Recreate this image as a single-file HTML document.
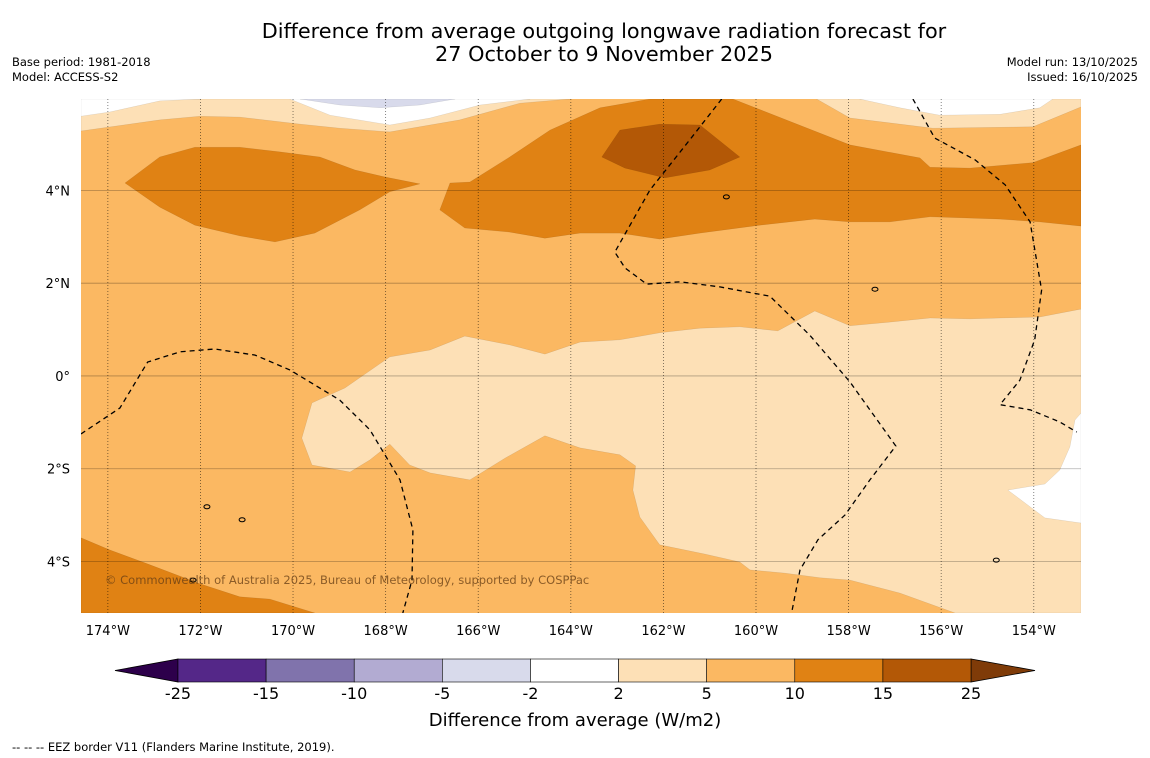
<!DOCTYPE html>
<html><head><meta charset="utf-8"><style>
html,body{margin:0;padding:0;background:#fff;}
svg{display:block;font-family:"DejaVu Sans","Liberation Sans",sans-serif;}
</style></head><body>
<svg id="chart" width="1150" height="758" viewBox="0 0 1150 758" xmlns="http://www.w3.org/2000/svg">
<rect width="1150" height="758" fill="#fff"/>
<text x="604" y="38" font-size="20.8" text-anchor="middle" fill="#000">Difference from average outgoing longwave radiation forecast for</text>
<text x="604" y="61" font-size="20.8" text-anchor="middle" fill="#000">27 October to 9 November 2025</text>
<text x="12" y="66" font-size="11.5">Base period: 1981-2018</text>
<text x="12" y="81" font-size="11.5">Model: ACCESS-S2</text>
<text x="1138" y="66" font-size="11.5" text-anchor="end">Model run: 13/10/2025</text>
<text x="1138" y="81" font-size="11.5" text-anchor="end">Issued: 16/10/2025</text>
<defs><clipPath id="mapclip"><rect x="81" y="99" width="1000" height="514"/></clipPath></defs>
<g id="map" clip-path="url(#mapclip)"></g>
<g id="axes"></g>
<g id="cbar"></g>
<text x="575" y="726" font-size="18" text-anchor="middle">Difference from average (W/m2)</text>
<text x="12" y="751" font-size="11.5">--  --  -- EEZ border V11 (Flanders Marine Institute, 2019).</text>
</svg>
<script>
// axis extents
const lonMin=-174.58, lonMax=-152.98, latMin=-5.11, latMax=5.97;
const levels=[-25,-15,-10,-5,-2,2,5,10,15,25];
const levelColors=["#542788","#8073ac","#b2abd2","#d8daeb","#ffffff","#fde0b6","#fbb862","#e08214","#b35806"];
const lowExtendColor="#2d004b", highExtendColor="#7f3b08";
const lonTicks=[-174,-172,-170,-168,-166,-164,-162,-160,-158,-156,-154];
const latTicks=[4,2,0,-2,-4];
// contour polygons [lon,lat]
const topLight=[[-174.58,5.97],[-164.02,5.97],[-165.10,5.88],[-166.40,5.52],[-167.91,5.26],[-168.99,5.34],[-169.85,5.43],[-171.15,5.58],[-172.01,5.60],[-172.88,5.52],[-174.58,5.28]];
const topLeftWhite=[[-174.58,5.97],[-174.58,5.60],[-173.96,5.69],[-172.88,5.93],[-172.01,5.97]];
const topMidWhite=[[-170.07,5.97],[-169.20,5.62],[-167.91,5.41],[-167.04,5.56],[-165.96,5.84],[-164.88,5.97]];
const topLavender=[[-169.85,5.97],[-168.99,5.84],[-168.12,5.78],[-167.26,5.84],[-166.50,5.97]];
const topRightLight=[[-158.69,5.97],[-157.97,5.56],[-156.18,5.34],[-154.02,5.37],[-152.98,5.80],[-152.98,5.97]];
const topRightWhite=[[-157.76,5.97],[-156.89,5.78],[-156.03,5.62],[-154.73,5.64],[-153.87,5.78],[-153.59,5.97]];
const leftOrange=[[-173.63,4.16],[-172.88,4.72],[-172.12,4.93],[-171.15,4.93],[-170.28,4.83],[-169.42,4.72],[-168.66,4.44],[-168.02,4.29],[-167.26,4.14],[-167.91,3.97],[-168.56,3.58],[-169.53,3.08],[-170.39,2.89],[-171.15,3.02],[-172.12,3.25],[-172.88,3.64]];
const bandOrange=[[-166.83,3.58],[-166.61,4.16],[-166.18,4.18],[-165.32,4.72],[-164.45,5.30],[-163.37,5.78],[-162.29,5.97],[-160.50,5.97],[-157.97,4.98],[-156.46,4.70],[-156.24,4.50],[-155.38,4.48],[-154.02,4.60],[-152.98,4.98],[-152.98,3.23],[-153.87,3.32],[-154.73,3.38],[-156.24,3.43],[-157.11,3.32],[-157.97,3.32],[-158.73,3.38],[-159.92,3.25],[-161.21,3.08],[-162.08,2.95],[-162.94,3.08],[-163.80,3.08],[-164.56,2.97],[-165.32,3.10],[-166.29,3.19]];
const darkOrange=[[-163.33,4.72],[-162.94,5.30],[-162.08,5.43],[-161.21,5.41],[-160.35,4.72],[-161.00,4.44],[-161.97,4.27],[-162.83,4.48]];
const lowerLight=[[-169.59,-0.58],[-168.88,-0.26],[-167.91,0.41],[-167.04,0.56],[-166.29,0.86],[-165.32,0.67],[-164.56,0.47],[-163.80,0.73],[-162.94,0.78],[-162.08,0.93],[-161.21,1.03],[-160.35,1.06],[-159.53,0.97],[-158.73,1.40],[-157.97,1.08],[-157.11,1.16],[-156.24,1.25],[-155.38,1.23],[-154.73,1.25],[-153.87,1.27],[-152.98,1.44],[-152.98,-5.11],[-155.70,-5.11],[-156.89,-4.68],[-157.97,-4.40],[-158.62,-4.35],[-159.38,-4.25],[-160.13,-4.18],[-160.35,-4.01],[-161.10,-3.84],[-162.08,-3.64],[-162.51,-3.04],[-162.66,-2.46],[-162.60,-1.94],[-162.94,-1.70],[-163.80,-1.55],[-164.56,-1.29],[-165.42,-1.77],[-166.18,-2.24],[-167.04,-2.09],[-167.48,-1.92],[-167.91,-1.47],[-168.34,-1.81],[-168.77,-2.07],[-169.59,-1.92],[-169.81,-1.34]];
const rightWhite=[[-152.98,-0.80],[-153.11,-0.95],[-153.22,-1.53],[-153.44,-2.03],[-153.76,-2.33],[-154.56,-2.46],[-153.76,-3.06],[-152.98,-3.17]];
const bottomLeftOrange=[[-174.58,-3.49],[-173.96,-3.75],[-173.09,-4.07],[-172.01,-4.48],[-171.15,-4.76],[-170.50,-4.81],[-169.53,-5.11],[-174.58,-5.11]];
const eezWest=[[-174.58,-1.25],[-173.74,-0.69],[-173.14,0.30],[-172.44,0.52],[-171.69,0.58],[-170.82,0.45],[-170.07,0.13],[-168.99,-0.52],[-168.34,-1.16],[-167.69,-2.24],[-167.41,-3.32],[-167.43,-4.40],[-167.63,-5.11]];
const eezCentral=[[-160.74,5.97],[-161.43,5.09],[-162.29,4.01],[-163.05,2.67],[-162.83,2.33],[-162.36,1.98],[-161.64,2.03],[-160.78,1.92],[-159.70,1.72],[-158.84,0.88],[-157.97,-0.13],[-156.98,-1.51],[-157.54,-2.24],[-158.08,-3.00],[-158.66,-3.53],[-159.05,-4.18],[-159.23,-5.11]];
const eezEast=[[-156.61,5.97],[-156.14,5.13],[-155.27,4.66],[-154.62,4.12],[-154.08,3.32],[-153.83,1.85],[-153.98,0.78],[-154.30,-0.09],[-154.73,-0.62],[-154.08,-0.73],[-153.44,-0.99],[-153.07,-1.21]];
const islands=[[-160.64,3.86],[-157.43,1.87],[-171.86,-2.82],[-172.16,-4.40],[-154.81,-3.97],[-171.10,-3.10]];

const NS="http://www.w3.org/2000/svg";
const X0=81,X1=1081,Y0=99,Y1=613;
function sx(lon){return X0+(lon-lonMin)/(lonMax-lonMin)*(X1-X0);}
function sy(lat){return Y0+(latMax-lat)/(latMax-latMin)*(Y1-Y0);}
function mk(tag,attrs,parent){const e=document.createElementNS(NS,tag);for(const k in attrs)e.setAttribute(k,attrs[k]);parent.appendChild(e);return e;}
function pts(a){return a.map(p=>sx(p[0]).toFixed(1)+","+sy(p[1]).toFixed(1)).join(" ");}
const map=document.getElementById("map");
const bg=mk("rect",{x:X0,y:Y0,width:X1-X0,height:Y1-Y0,fill:levelColors[6]},map);


const layers=[[topLight,5,'top-light-band'],[topLeftWhite,4,'top-left-near-zero'],[topMidWhite,4,'top-mid-near-zero'],[topLavender,3,'top-negative-patch'],[topRightLight,5,'top-right-light-band'],[topRightWhite,4,'top-right-near-zero'],[leftOrange,7,'left-10-15-region'],[bandOrange,7,'north-10-15-band'],[darkOrange,8,'north-15-25-core'],[lowerLight,5,'equatorial-2-5-region'],[rightWhite,4,'east-near-zero'],[bottomLeftOrange,7,'southwest-10-15-region']];
layers.forEach(l=>{
  const p=mk("polygon",{points:pts(l[0]),fill:levelColors[l[1]],stroke:"rgba(0,0,0,0.12)","stroke-width":0.5},map);
  
  
});
latTicks.forEach(t=>{
  const g=mk("line",{x1:X0,x2:X1,y1:sy(t),y2:sy(t),stroke:"rgba(0,0,0,0.3)","stroke-width":0.8},map);
  
  
});
lonTicks.forEach(t=>{
  const g=mk("line",{x1:sx(t),x2:sx(t),y1:Y0,y2:Y1,stroke:"rgba(0,0,0,0.6)","stroke-width":0.8,"stroke-dasharray":"1,2"},map);
  
  
});
[[eezWest,'eez-border-west'],[eezCentral,'eez-border-central'],[eezEast,'eez-border-east']].forEach(l=>{
  const p=mk("polyline",{points:pts(l[0]),fill:"none",stroke:"#000","stroke-width":1.3,"stroke-dasharray":"5,4"},map);
  
  
});
islands.forEach(c=>{
  const e=mk("ellipse",{cx:sx(c[0]),cy:sy(c[1]),rx:3,ry:2,fill:"none",stroke:"#000","stroke-width":1},map);
  
  
});
const cp=mk("text",{x:105,y:584,"font-size":11.5,fill:"rgba(100,60,20,0.75)"},map);
cp.textContent="© Commonwealth of Australia 2025, Bureau of Meteorology, supported by COSPPac";


const axes=document.getElementById("axes");
lonTicks.forEach(t=>{
  const tx=mk("text",{x:sx(t),y:635,"font-size":13,"text-anchor":"middle"},axes);
  tx.textContent=Math.abs(t)+"°W";
  
  
});
latTicks.forEach(t=>{
  const tx=mk("text",{x:70,y:sy(t)+5,"font-size":13,"text-anchor":"end"},axes);
  tx.textContent=t===0?"0°":Math.abs(t)+"°"+(t>0?"N":"S");
  
  
});
const cb=document.getElementById("cbar");
const cbX0=178,cbX1=971,cbY=659,cbH=23;
function cx(i){return cbX0+i*(cbX1-cbX0)/(levels.length-1);}
const lo=mk("polygon",{points:`${cbX0},${cbY} ${cbX0},${cbY+cbH} 115,${cbY+cbH/2}`,fill:lowExtendColor,stroke:"#000","stroke-width":0.8},cb);


const hi=mk("polygon",{points:`${cbX1},${cbY} ${cbX1},${cbY+cbH} 1035,${cbY+cbH/2}`,fill:highExtendColor,stroke:"#000","stroke-width":0.8},cb);


levelColors.forEach((c,i)=>{
  const r=mk("rect",{x:cx(i),y:cbY,width:cx(i+1)-cx(i),height:cbH,fill:c,stroke:"#000","stroke-width":0.6},cb);
  
  
});
levels.forEach((v,i)=>{
  const t=mk("text",{x:cx(i),y:699,"font-size":16,"text-anchor":"middle"},cb);
  t.textContent=v;
  
  
});
</script>
</body></html>
